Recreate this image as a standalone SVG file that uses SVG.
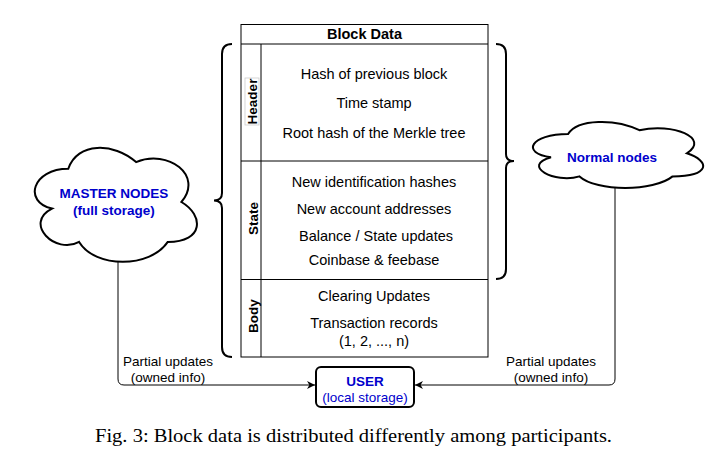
<svg xmlns="http://www.w3.org/2000/svg" width="716" height="456" viewBox="0 0 716 456">
<defs>
<style>
.t{font-family:"Liberation Sans",Arial,sans-serif;font-size:14.5px;fill:#000;text-anchor:middle}
.b{font-weight:bold}
.lbl{font-family:"Liberation Sans",Arial,sans-serif;font-size:13.5px;fill:#000;text-anchor:middle}
.blue{font-family:"Liberation Sans",Arial,sans-serif;font-size:13.5px;fill:#0000CC;text-anchor:middle}
.line{stroke:#000;stroke-width:1;fill:none}
.brace{stroke:#000;stroke-width:2;fill:none}
.cloud{stroke:#000;stroke-width:2;fill:#fff}
.conn{stroke:#000;stroke-width:1;fill:none}
.cap{font-family:"Liberation Serif","Times New Roman",serif;font-size:18px;fill:#000}
</style>
<marker id="arr" viewBox="0 0 10 10" refX="10" refY="5" markerWidth="8" markerHeight="8" markerUnits="userSpaceOnUse" orient="auto">
<path d="M0,0 L10,5 L0,10 L3,5 Z" fill="#000"/>
</marker>
</defs>
<rect width="716" height="456" fill="#fff"/>

<g id="block-table">
<rect x="241" y="24.5" width="247" height="332.5" class="line"/>
<line x1="241" y1="44" x2="488" y2="44" class="line"/>
<line x1="261" y1="44" x2="261" y2="357" class="line"/>
<line x1="241" y1="161" x2="488" y2="161" class="line"/>
<line x1="241" y1="279.5" x2="488" y2="279.5" class="line"/>
<text x="364.5" y="39" class="t b">Block Data</text>
<rect x="245" y="78" width="14" height="47" fill="#fff" stroke="#ccc" stroke-width="0.8"/>
<text transform="translate(256.5,101.5) rotate(-90)" class="lbl b">Header</text>
<text transform="translate(257.5,218.5) rotate(-90)" class="lbl b">State</text>
<text transform="translate(257.5,316) rotate(-90)" class="lbl b">Body</text>
<text x="374" y="78.5" class="t">Hash of previous block</text>
<text x="374" y="108" class="t">Time stamp</text>
<text x="374" y="137.5" class="t">Root hash of the Merkle tree</text>
<text x="374" y="187" class="t">New identification hashes</text>
<text x="374" y="213.5" class="t">New account addresses</text>
<text x="376" y="241" class="t">Balance / State updates</text>
<text x="374" y="265" class="t">Coinbase &amp; feebase</text>
<text x="374" y="301" class="t">Clearing Updates</text>
<text x="374" y="328" class="t">Transaction records</text>
<text x="374" y="346" class="t">(1, 2, ..., n)</text>
</g>

<g id="brace-left">
<path class="brace" d="M232,44 Q222,44 222,54 V193 Q222,200.5 214,200.5 Q222,200.5 222,208 V347 Q222,357 232,357"/>
</g>
<g id="brace-right">
<path class="brace" d="M496,44 Q506,44 506,54 V154 Q506,161 514,161 Q506,161 506,168 V269 Q506,279 496,279"/>
</g>

<g id="master-nodes">
<path class="cloud" d="M68.3,168.8 C32.1,168.8 23,202 52,208.6 C23,223.3 55.6,255.2 79.1,241.9 C95.4,268.5 149.7,268.5 167.8,241.9 C204,241.9 204,215.3 181.4,202 C204,175.4 167.8,148.8 136.1,162.1 C113.5,142.1 77.3,142.1 68.3,168.8 Z"/>
<text x="114" y="198" class="blue b">MASTER NODES</text>
<text x="114" y="215" class="blue b">(full storage)</text>
</g>

<g id="normal-nodes">
<path class="cloud" d="M568.1,134 C530.1,134 520.6,153.3 551,157.2 C520.6,165.6 554.8,184.1 579.5,176.4 C596.6,191.8 653.6,191.8 672.6,176.4 C710.6,176.4 710.6,161 686.9,153.3 C710.6,137.9 672.6,122.5 639.4,130.2 C615.6,118.6 577.6,118.6 568.1,134 Z"/>
<text x="612" y="162" class="blue b">Normal nodes</text>
</g>

<g id="user">
<rect x="316" y="367" width="98" height="40" rx="5" fill="#fff" stroke="#000" stroke-width="2"/>
<text x="365" y="386" class="blue b">USER</text>
<text x="365" y="402" class="blue">(local storage)</text>
</g>

<g id="connectors">
<path class="conn" d="M118,262 V379 Q118,385 124,385 H315" marker-end="url(#arr)"/>
<path class="conn" d="M615,188 V379 Q615,385 609,385 H415" marker-end="url(#arr)"/>
<text x="168" y="365.5" class="lbl">Partial updates</text>
<text x="168" y="381.5" class="lbl">(owned info)</text>
<text x="551" y="365.5" class="lbl">Partial updates</text>
<text x="551" y="381.5" class="lbl">(owned info)</text>
</g>

<text x="95" y="442" class="cap" textLength="517" lengthAdjust="spacingAndGlyphs">Fig. 3: Block data is distributed differently among participants.</text>
</svg>
